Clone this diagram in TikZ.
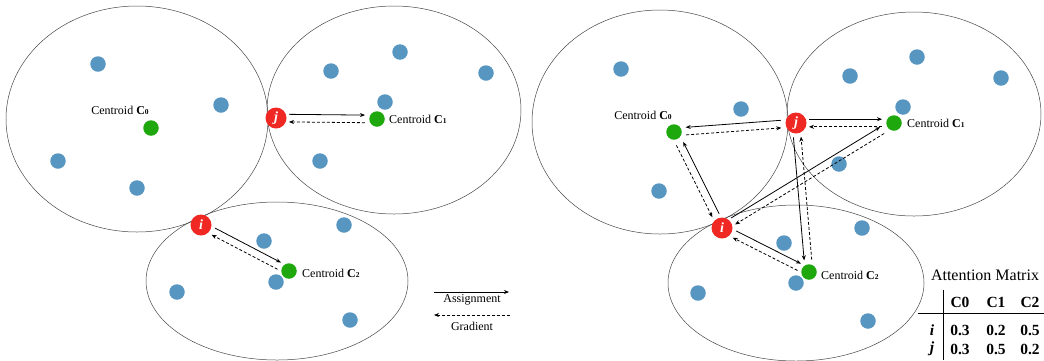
\documentclass[tikz,border=0pt]{standalone}
\usepackage{fontspec}
\setmainfont{Liberation Serif}
\usetikzlibrary{arrows.meta,calc}
\definecolor{dotblue}{RGB}{88,150,194}
\definecolor{dotgreen}{RGB}{30,168,14}
\definecolor{dotred}{RGB}{240,40,36}
\definecolor{ringgray}{RGB}{70,70,70}
\tikzset{
  cluster/.style={draw=ringgray,line width=0.5pt},
  pt/.style={circle,fill=dotblue,minimum size=15.5pt,inner sep=0pt},
  cen/.style={circle,fill=dotgreen,minimum size=15.5pt,inner sep=0pt},
  sam/.style={circle,fill=dotred,minimum size=21pt,inner sep=0pt,text=white,font=\fontsize{14}{14}\selectfont\bfseries\itshape},
  lab/.style={font=\fontsize{12}{12}\selectfont,inner sep=0pt},
  tab/.style={font=\fontsize{15.5}{15.5}\selectfont\bfseries,inner sep=0pt},
  rowlab/.style={font=\fontsize{15.5}{15.5}\selectfont\bfseries\itshape,inner sep=0pt},
  rule/.style={line width=0.8pt},
  assign/.style={line width=0.8pt,-{Stealth[length=5pt,width=4pt]}},
  grad/.style={assign,dash pattern=on 3pt off 2pt},
}
\newcommand{\cent}[1]{Centroid \textbf{C}{\fontsize{7.5}{7.5}\selectfont\textbf{#1}}}
% #1 from, #2 to, #3 side angle of solid, #4 shorten at #1, #5 shorten at #2
\newcommand{\arrpair}[5]{%
  \pgfmathsetmacro\angA{#3}\pgfmathsetmacro\angB{-(#3)}%
  \draw[assign,shorten <=#4,shorten >=#5] ($(#1)!3.8pt!\angA:(#2)$) -- ($(#2)!3.8pt!\angB:(#1)$);
  \draw[grad,shorten <=#5,shorten >=#4] ($(#2)!3.8pt!\angA:(#1)$) -- ($(#1)!3.8pt!\angB:(#2)$);
}
\begin{document}
\begin{tikzpicture}[x=1pt,y=-1pt]
\useasboundingbox (0,0) rectangle (1044,360);
% ---------- left panel ----------
\draw[cluster] (137,119) ellipse [x radius=131pt, y radius=113pt];
\draw[cluster] (394,110) ellipse [x radius=127pt, y radius=104pt];
\draw[cluster] (277,281) ellipse [x radius=131pt, y radius=79pt];
\node[pt] (la1) at (98,64) {};
\node[pt] (la2) at (221,105) {};
\node[pt] (la3) at (58,161) {};
\node[pt] (la4) at (137,188) {};
\node[pt] (lb1) at (331,71) {};
\node[pt] (lb2) at (400,52) {};
\node[pt] (lb3) at (486,73) {};
\node[pt] (lb4) at (385,102) {};
\node[pt] (lb5) at (320,161) {};
\node[pt] (lc1) at (264,241) {};
\node[pt] (lc2) at (344,225) {};
\node[pt] (lc3) at (177,292) {};
\node[pt] (lc4) at (276,282) {};
\node[pt] (lc5) at (350,320) {};
\node[cen] (c0L) at (151,128) {};
\node[cen] (c1L) at (377,119) {};
\node[cen] (c2L) at (289,271) {};
\node[sam] (jL) at (276,118) {j};
\node[sam] (iL) at (201,225) {i};
\node[lab] (t0L) at (120,110) {\cent{0}};
\node[lab,anchor=west] (t1L) at (389,119) {\cent{1}};
\node[lab,anchor=west] (t2L) at (302,273) {\cent{2}};
\arrpair{jL}{c1L}{90}{13pt}{12pt}
\arrpair{iL}{c2L}{90}{14pt}{11pt}
% legend
\coordinate (lg1a) at (434,292);
\coordinate (lg1b) at (509,292);
\coordinate (lg2a) at (510,315);
\coordinate (lg2b) at (434,315);
\draw[assign] (lg1a) -- (lg1b);
\draw[grad] (lg2a) -- (lg2b);
\node[lab] (lgt1) at (472,300) {Assignment};
\node[lab] (lgt2) at (472,326) {Gradient};
% ---------- right panel ----------
\draw[cluster] (660,122) ellipse [x radius=128pt, y radius=112pt];
\draw[cluster] (914,114) ellipse [x radius=127pt, y radius=102pt];
\draw[cluster] (796,283) ellipse [x radius=128pt, y radius=78pt];
\node[pt] (ra1) at (621,69) {};
\node[pt] (ra2) at (741,109) {};
\node[pt] (ra3) at (659,191) {};
\node[pt] (rb1) at (850,76) {};
\node[pt] (rb2) at (917,57) {};
\node[pt] (rb3) at (1001,78) {};
\node[pt] (rb4) at (903,107) {};
\node[pt] (rb5) at (839,164) {};
\node[pt] (rc1) at (784,243) {};
\node[pt] (rc2) at (862,228) {};
\node[pt] (rc3) at (698,293) {};
\node[pt] (rc4) at (796,283) {};
\node[pt] (rc5) at (868,321) {};
\node[cen] (c0R) at (674,132) {};
\node[cen] (c1R) at (894,123) {};
\node[cen] (c2R) at (809,272) {};
\node[sam] (jR) at (796,123) {j};
\node[sam] (iR) at (722,228) {i};
\node[lab] (t0R) at (643,115) {\cent{0}};
\node[lab,anchor=west] (t1R) at (907,123) {\cent{1}};
\node[lab,anchor=west] (t2R) at (821,275) {\cent{2}};
\arrpair{jR}{c0R}{-90}{15pt}{12pt}
\arrpair{jR}{c1R}{90}{13pt}{12pt}
\arrpair{iR}{c0R}{-90}{14pt}{13pt}
\arrpair{iR}{c1R}{90}{13pt}{14pt}
\arrpair{iR}{c2R}{90}{14pt}{11pt}
\arrpair{jR}{c2R}{-90}{14pt}{12pt}
% ---------- attention matrix ----------
\node[font=\fontsize{16}{16}\selectfont,inner sep=0pt] (amt) at (985,275) {Attention Matrix};
\node[tab] (h0) at (960,302) {C0};
\node[tab] (h1) at (996,302) {C1};
\node[tab] (h2) at (1030,302) {C2};
\node[rowlab] (ri) at (932,330) {i};
\node[rowlab] (rj) at (932,349) {j};
\node[tab] (v00) at (960,330) {0.3};
\node[tab] (v01) at (996,330) {0.2};
\node[tab] (v02) at (1030,330) {0.5};
\node[tab] (v10) at (960,349) {0.3};
\node[tab] (v11) at (996,349) {0.5};
\node[tab] (v12) at (1030,349) {0.2};
\draw[rule] (918,313) -- (1044,313);
\draw[rule] (943,290) -- (943,360);
\end{tikzpicture}
\end{document}
